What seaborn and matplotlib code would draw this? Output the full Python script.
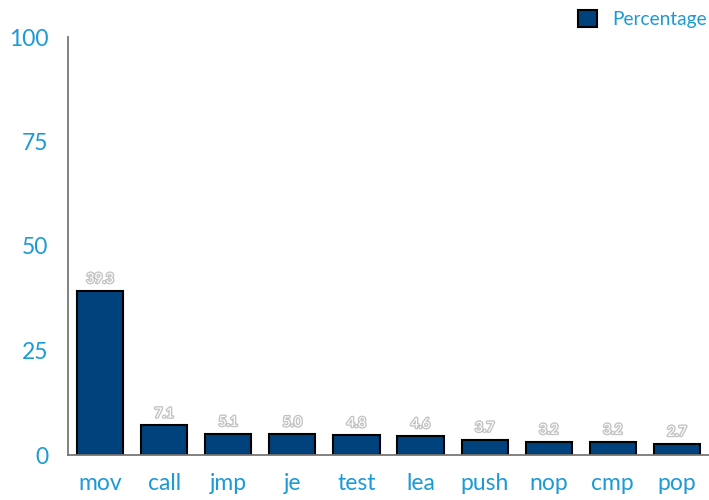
import matplotlib
matplotlib.use("Agg")
import matplotlib.pyplot as plt
import matplotlib.patheffects as pe
import seaborn as sns
import pandas as pd

instructions = ["mov", "call", "jmp", "je", "test", "lea", "push", "nop", "cmp", "pop"]
percentages = [39.3, 7.1, 5.1, 5.0, 4.8, 4.6, 3.7, 3.2, 3.2, 2.7]
y_ticks = [0, 25, 50, 75, 100]

df = pd.DataFrame({"instruction": instructions, "pct": percentages})

sns.set_theme(style="white")
plt.rcParams["font.family"] = ["Lato", "DejaVu Sans"]

BAR = "#00427c"
TXT = "#1c9ad6"

fig = plt.figure(figsize=(7.09, 5.0), dpi=100)
ax = fig.add_axes([68 / 709, 45 / 500, 1 - 68 / 709, 418 / 500])

sns.barplot(data=df, x="instruction", y="pct", color=BAR, width=0.72,
            edgecolor="black", linewidth=1.5, saturation=1, ax=ax,
            label="Percentage")

# value labels: white text with a soft grey halo
for i, v in enumerate(percentages):
    ax.text(i, v + 1.4, f"{v:.1f}", ha="center", va="bottom", fontsize=10,
            color="white",
            path_effects=[pe.withStroke(linewidth=2.0, foreground="#c4c4c4")])

ax.set_ylim(0, 100)
ax.set_xlim(-0.5, len(instructions) - 0.5)
ax.set_yticks(y_ticks)
ax.set_yticklabels([str(t) for t in y_ticks])
ax.tick_params(axis="both", length=0, labelsize=16.5, colors=TXT)
ax.tick_params(axis="y", pad=14)
ax.tick_params(axis="x", pad=13)
ax.set_xlabel("")
ax.set_ylabel("")

for s in ["top", "right"]:
    ax.spines[s].set_visible(False)
for s in ["left", "bottom"]:
    ax.spines[s].set_color("#777777")
    ax.spines[s].set_linewidth(1.3)

leg = ax.legend(loc="center right", bbox_to_anchor=(1.0, 1.0 + 18 / 418), frameon=False,
                fontsize=13.8, handlelength=1.0, handleheight=1.0,
                handletextpad=0.8, borderaxespad=0.0, borderpad=0.1)
for t in leg.get_texts():
    t.set_color(TXT)

fig.savefig("out.png", dpi=100)
